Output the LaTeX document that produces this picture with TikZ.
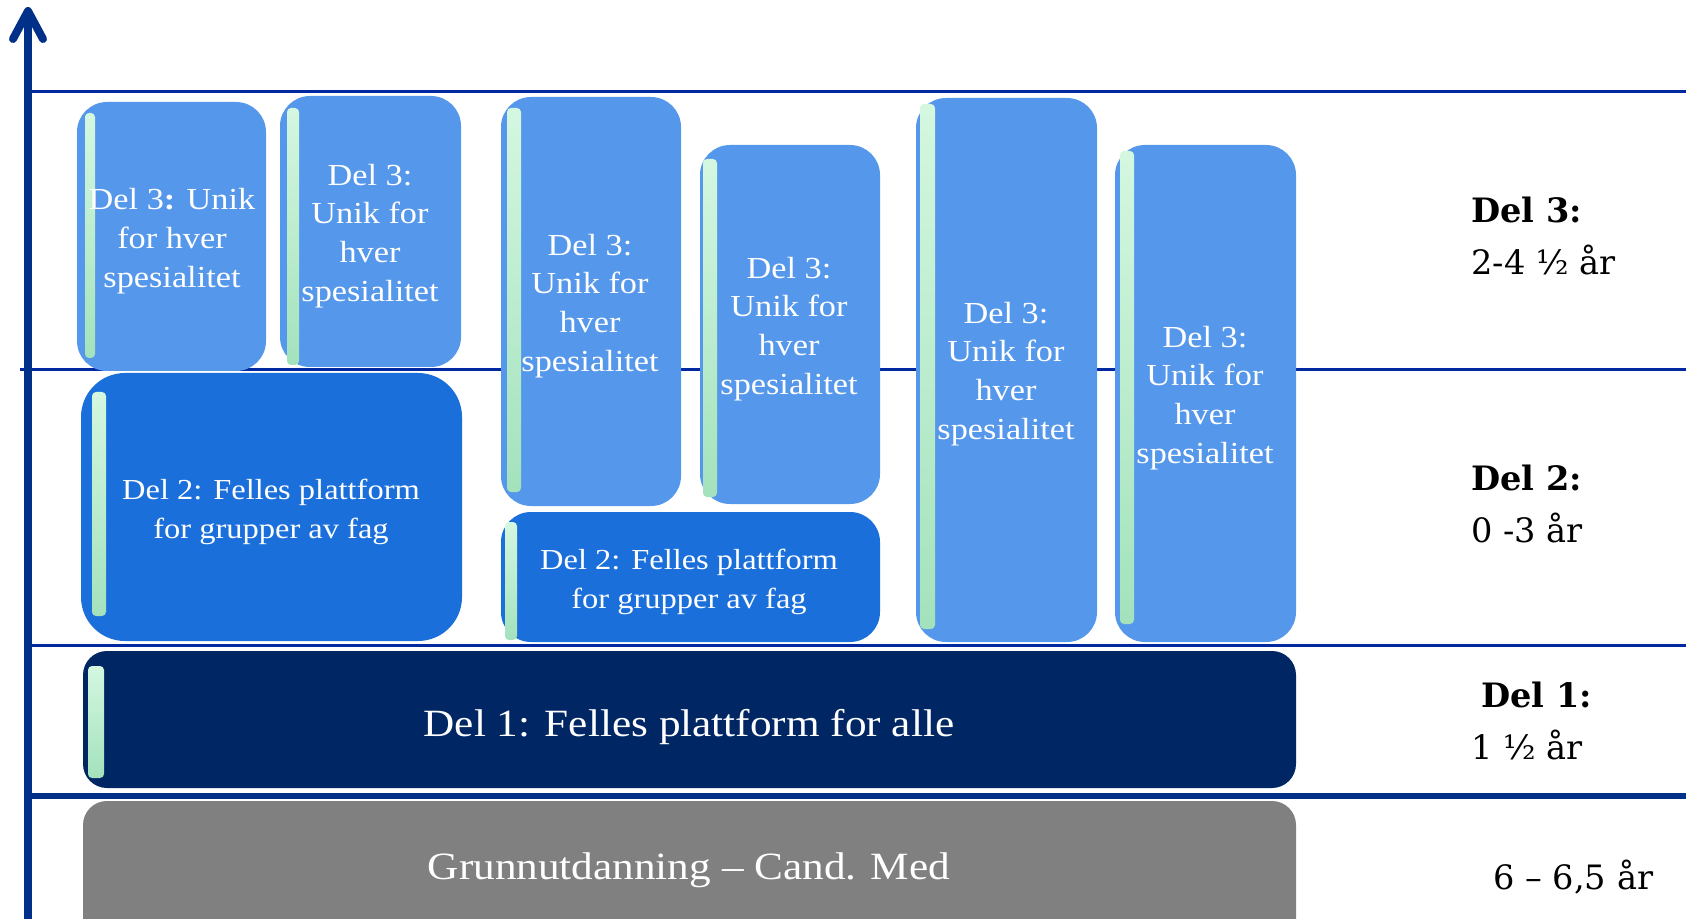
\documentclass[tikz,border=0pt]{standalone}
\usepackage{fontspec}
\usepackage{xcolor}
\usepackage{tikz}

\newfontfamily\boxfont{Liberation Serif}[FakeStretch=1.12, Ligatures=TeX]
\newfontfamily\sidefont{DejaVu Serif}[Ligatures=TeX]

\definecolor{axisblue}{RGB}{0,48,135}
\definecolor{lineblue}{RGB}{0,40,160}
\definecolor{delthree}{RGB}{85,151,234}
\definecolor{deltwo}{RGB}{26,111,219}
\definecolor{delone}{RGB}{0,38,100}
\definecolor{grunn}{RGB}{128,128,128}
\definecolor{bartop}{RGB}{212,247,224}
\definecolor{barbottom}{RGB}{163,226,188}

\begin{document}
\begin{tikzpicture} [x=0.5pt, y=-0.5pt,
  boxtext/.style={text=white, align=center, inner sep=0pt, font=\boxfont\fontsize{15.3}{19.4}\selectfont},
  midtext/.style={text=white, align=center, inner sep=0pt, font=\boxfont\fontsize{14.5}{19.4}\selectfont},
  bigtext/.style={text=white, inner sep=0pt, font=\boxfont\fontsize{19.3}{24}\selectfont},
  sidetext/.style={align=left, anchor=west, inner sep=0pt, font=\sidefont\fontsize{16.8}{26}\selectfont},
  bar/.style={top color=bartop, bottom color=barbottom, rounded corners=2pt}]

\useasboundingbox (0,0) rectangle (1686,919);

% the level lines
\draw [lineblue, line width=1.5pt] (32,92) -- (1686,92);
\draw [lineblue, line width=1.5pt] (20,370) -- (1686,370);
\draw [lineblue, line width=1.5pt] (24,645) -- (1686,645);
\draw [axisblue, line width=3pt] (28,796) -- (1686,796);

% the axis
\draw [axisblue, line width=4pt] (28,919) -- (28,14);
\draw [axisblue, line width=4pt, line cap=round, line join=round] (13,39) -- (28,11) -- (43,39);

% grunnutdanning
\path [fill=grunn, rounded corners=12pt] (83,801) rectangle (1296,945);
\node [bigtext] (grunn) at (689,870) {Grunnutdanning – Cand. Med};

% Del 1
\path [fill=delone, rounded corners=12pt] (83,651) rectangle (1296,788);
\shade [bar] (88,666) rectangle (104,778);
\node [bigtext] (delone) at (689,727) {Del 1: Felles plattform for alle};

% Del 2 boxes
\path [fill=deltwo, rounded corners=22pt] (81,373) rectangle (462,641);
\shade [bar] (92,392) rectangle (106,616);
\node [midtext] (deltwoA) at (271,512) {Del 2: Felles plattform\\for grupper av fag};

\path [fill=deltwo, rounded corners=15pt] (501,512) rectangle (880,642);
\shade [bar] (505,522) rectangle (517,640);
\node [midtext] (deltwoB) at (689,582) {Del 2: Felles plattform\\for grupper av fag};

% Del 3 boxes
\path [fill=delthree, rounded corners=15pt] (77,102) rectangle (266,371);
\shade [bar] (85,113) rectangle (95,358);
\node [boxtext] (delthreeA) at (172,241) {Del 3\textbf{:} Unik\\for hver\\spesialitet};

\path [fill=delthree, rounded corners=15pt] (280,96) rectangle (461,367);
\shade [bar] (287,108) rectangle (299,365);
\node [boxtext] (delthreeB) at (370,236) {Del 3:\\Unik for\\hver\\spesialitet};

\path [fill=delthree, rounded corners=15pt] (501,97) rectangle (681,506);
\shade [bar] (507,108) rectangle (521,492);
\node [boxtext] (delthreeC) at (590,306) {Del 3:\\Unik for\\hver\\spesialitet};

\path [fill=delthree, rounded corners=15pt] (700,145) rectangle (880,504);
\shade [bar] (703,159) rectangle (717,497);
\node [boxtext] (delthreeD) at (789,329) {Del 3:\\Unik for\\hver\\spesialitet};

\path [fill=delthree, rounded corners=15pt] (916,98) rectangle (1097,642);
\shade [bar] (920,104) rectangle (935,629);
\node [boxtext] (delthreeE) at (1006,374) {Del 3:\\Unik for\\hver\\spesialitet};

\path [fill=delthree, rounded corners=15pt] (1115,145) rectangle (1296,642);
\shade [bar] (1120,151) rectangle (1134,624);
\node [boxtext] (delthreeF) at (1205,398) {Del 3:\\Unik for\\hver\\spesialitet};

% the durations
\node [sidetext] (durthree) at (1471,236) {\textbf{Del 3:}\\2-4 ½ år};
\node [sidetext] (durtwo) at (1471,504) {\textbf{Del 2:}\\0 -3 år};
\node [sidetext] (durone) at (1471,721) {\hspace*{5pt}\textbf{Del 1:}\\1 ½ år};
\node [sidetext] (durgrunn) at (1493,877) {6 – 6,5 år};

\end{tikzpicture}
\end{document}
